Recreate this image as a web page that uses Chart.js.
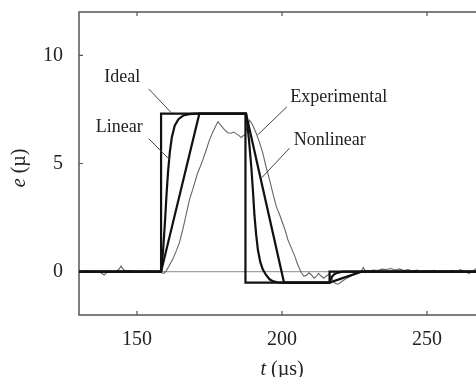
<!DOCTYPE html>
<html>
<head>
<meta charset="utf-8">
<script src="https://cdn.jsdelivr.net/npm/chart.js@4.4.1/dist/chart.umd.min.js"></script>
<style>
  html, body { margin: 0; padding: 0; background: #fff; overflow: hidden; }
  #wrap { width: 490px; height: 377px; }
</style>
</head>
<body>
<div id="wrap"><canvas id="myChart" width="490" height="377"></canvas></div>
<script>
// time (us) and strain values
const xTicks = [150, 200, 250];
const yTicks = [0, 5, 10];

const idealT = [130, 158.3, 158.3, 187.4, 187.4, 216.4, 216.4, 270];
const idealE = [0, 0, 7.3, 7.3, -0.5, -0.5, 0, 0];

const linearT = [130, 158.3, 171.5, 187.6, 200.7, 216.4, 227.4, 270];
const linearE = [0, 0, 7.3, 7.3, -0.5, -0.5, 0, 0];

const nonlinT = [130, 158.3, 159.0, 159.6, 160.2, 160.7, 161.3, 162.0, 163.0, 164.3, 166, 168, 170,
  187.6, 188.2, 188.6, 189.4, 190.0, 190.5, 191.1, 191.7, 192.5, 193.4, 194.5, 195.7, 197, 198.5, 200,
  216.4, 216.8, 217.3, 218, 219, 221, 270];
const nonlinE = [0, 0, 1.0, 2.2, 3.6, 4.6, 5.5, 6.2, 6.75, 7.05, 7.22, 7.28, 7.3,
  7.3, 6.6, 6.1, 4.86, 3.7, 2.6, 1.7, 1.0, 0.45, 0.1, -0.15, -0.35, -0.45, -0.49, -0.5,
  -0.5, -0.35, -0.22, -0.12, -0.05, 0, 0];

const expT = [130, 131.5, 133, 134.5, 136, 137.5, 138.7, 139.8, 141, 142.5, 143.7, 144.5, 145.3, 146.5, 148,
  149.5, 151, 152.5, 154, 155.5, 157, 158.5, 159.3, 160, 161, 162.3, 163.5, 164.6, 165.5, 166.3, 167.2,
  168.1, 169.2, 170, 170.9, 171.8, 172.7, 173.8, 175, 176.3, 177.9, 179, 180.2, 181.3, 182.5, 183.3,
  184.2, 185.1, 185.9, 186.6, 187.1, 187.8, 188.8, 189.8, 191.1, 192.3, 193.4, 194.5, 195.7, 196.8,
  198, 199, 199.8, 201, 202, 203.2, 204.4, 205.5, 206.7, 207.5, 208.4, 209.3, 210.2, 211, 211.8,
  212.6, 213.5, 214.4, 215.3, 216.2, 217, 217.6, 218.5, 219.3, 220.2, 220.8, 222, 223.5, 225, 226.3,
  227.4, 228, 228.7, 230, 231.5, 233, 234.5, 236, 237.5, 239, 240.5, 242, 243.5, 245, 246.5, 248,
  249.5, 251, 252.5, 254, 255.5, 257, 258.5, 260, 261.5, 263, 264.5, 266, 267.5, 269, 270];
const expE = [0.02, 0.0, 0.05, -0.02, 0.03, -0.05, -0.15, 0.0, 0.03, 0.0, 0.1, 0.26, 0.1, 0.02, 0.05,
  -0.02, 0.03, 0.0, 0.04, -0.02, 0.02, -0.05, -0.08, 0.03, 0.25, 0.57, 0.95, 1.33, 1.8, 2.25, 2.8,
  3.33, 3.79, 4.15, 4.56, 4.85, 5.17, 5.6, 6.09, 6.5, 6.93, 6.75, 6.55, 6.42, 6.4, 6.45,
  6.38, 6.3, 6.2, 6.28, 6.3, 6.6, 7.0, 6.8, 6.4, 5.95, 5.47, 4.85, 4.25, 3.65,
  3.02, 2.7, 2.4, 1.95, 1.49, 1.1, 0.72, 0.3, -0.05, -0.2, -0.17, -0.05, -0.15, -0.3, -0.22,
  -0.08, -0.2, -0.3, -0.2, -0.12, -0.25, -0.43, -0.55, -0.58, -0.5, -0.43, -0.33, -0.22, -0.12, -0.05,
  0.0, 0.2, 0.05, 0.03, 0.08, 0.05, 0.12, 0.1, 0.15, 0.08, 0.13, 0.05, 0.1, 0.02, 0.08, 0.0,
  0.05, 0.02, 0.06, 0.0, 0.04, -0.02, 0.05, 0.0, 0.1, 0.0, -0.08, 0.05, 0.2, 0.1, 0.05];

const zeroT = [130, 270];
const zeroE = [0, 0];

// curve labels with leader lines (data units)
const labelText = ['Ideal', 'Linear', 'Experimental', 'Nonlinear'];
const labelPos = [[144.9, 8.99], [143.9, 6.69], [219.6, 8.07], [216.5, 6.09]];
const leaderFrom = [[154.0, 8.45], [154.0, 6.15], [201.7, 7.62], [202.6, 5.71]];
const leaderTo = [[161.8, 7.35], [161.3, 5.17], [191.6, 6.32], [193.0, 4.34]];

function pts(xs, ys) {
  return xs.map((x, i) => ({ x: x, y: ys[i] }));
}

const serif = '"Liberation Serif", "Times New Roman", serif';

const decor = {
  id: 'decor',
  beforeDatasetsDraw(chart) {
    const { ctx, chartArea: { top, bottom, left, right }, scales: { x, y } } = chart;
    ctx.save();
    ctx.strokeStyle = '#555';
    ctx.lineWidth = 1.5;
    ctx.strokeRect(left, top, right - left, bottom - top);
    ctx.lineWidth = 1.2;
    ctx.beginPath();
    xTicks.forEach(v => {
      const px = x.getPixelForValue(v);
      ctx.moveTo(px, top); ctx.lineTo(px, top + 4);
      ctx.moveTo(px, bottom); ctx.lineTo(px, bottom - 4);
    });
    yTicks.forEach(v => {
      const py = y.getPixelForValue(v);
      ctx.moveTo(left, py); ctx.lineTo(left + 4, py);
    });
    ctx.stroke();
    ctx.restore();
  },
  afterDraw(chart) {
    const { ctx, chartArea: { top, bottom, left }, scales: { x, y } } = chart;
    ctx.save();
    // leader lines
    ctx.strokeStyle = '#444';
    ctx.lineWidth = 1;
    ctx.beginPath();
    leaderFrom.forEach((p, i) => {
      ctx.moveTo(x.getPixelForValue(p[0]), y.getPixelForValue(p[1]));
      ctx.lineTo(x.getPixelForValue(leaderTo[i][0]), y.getPixelForValue(leaderTo[i][1]));
    });
    ctx.stroke();
    // labels
    ctx.fillStyle = '#222';
    ctx.font = '18px ' + serif;
    ctx.textAlign = 'center';
    ctx.textBaseline = 'middle';
    labelText.forEach((t, i) => {
      ctx.fillText(t, x.getPixelForValue(labelPos[i][0]), y.getPixelForValue(labelPos[i][1]));
    });

    // axis titles with italic symbol
    function mixed(italic, rest, cx, cy) {
      ctx.font = 'italic 20px ' + serif;
      const w1 = ctx.measureText(italic).width;
      ctx.font = '20px ' + serif;
      const w2 = ctx.measureText(rest).width;
      let sx = cx - (w1 + w2) / 2;
      ctx.textAlign = 'left';
      ctx.textBaseline = 'alphabetic';
      ctx.font = 'italic 20px ' + serif;
      ctx.fillText(italic, sx, cy);
      ctx.font = '20px ' + serif;
      ctx.fillText(rest, sx + w1, cy);
    }
    mixed('t', ' (\u00b5s)', x.getPixelForValue(200), 375);
    ctx.translate(25, y.getPixelForValue(4.8));
    ctx.rotate(-Math.PI / 2);
    mixed('e', ' (\u00b5)', 0, 0);
    ctx.restore();
  }
};

const ctx1 = document.getElementById('myChart');

const myChart = new Chart(ctx1, {
  type: 'line',
  data: {
    datasets: [
      { label: 'Ideal', data: pts(idealT, idealE), borderColor: '#111', borderWidth: 2.2, order: 1 },
      { label: 'Linear', data: pts(linearT, linearE), borderColor: '#111', borderWidth: 2.2, order: 2 },
      { label: 'Nonlinear', data: pts(nonlinT, nonlinE), borderColor: '#111', borderWidth: 2.2, order: 3, tension: 0 },
      { label: 'Experimental', data: pts(expT, expE), borderColor: '#666', borderWidth: 1.1, order: 4 },
      { label: 'zero', data: pts(zeroT, zeroE), borderColor: '#888', borderWidth: 1, order: 5 }
    ]
  },
  options: {
    responsive: false,
    animation: false,
    elements: { point: { radius: 0 }, line: { fill: false } },
    layout: { padding: { top: 12, right: 5, left: 0, bottom: 0 } },
    plugins: {
      legend: { display: false },
      tooltip: { enabled: false }
    },
    scales: {
      x: {
        type: 'linear',
        min: 130,
        max: 270,
        grid: { display: false, drawTicks: false },
        border: { display: false },
        afterBuildTicks(scale) { scale.ticks = xTicks.map(v => ({ value: v })); },
        afterFit(scale) { scale.height = 62; scale.paddingLeft = 0; scale.paddingRight = 0; },
        ticks: { color: '#222', font: { family: serif, size: 20 }, padding: 13, maxRotation: 0 }
      },
      y: {
        min: -2,
        max: 12,
        grid: { display: false, drawTicks: false },
        border: { display: false },
        afterBuildTicks(scale) { scale.ticks = yTicks.map(v => ({ value: v })); },
        afterFit(scale) { scale.width = 79; scale.paddingTop = 0; scale.paddingBottom = 0; },
        ticks: { color: '#222', font: { family: serif, size: 20 }, padding: 16 }
      }
    }
  },
  plugins: [decor]
});
</script>
</body>
</html>
